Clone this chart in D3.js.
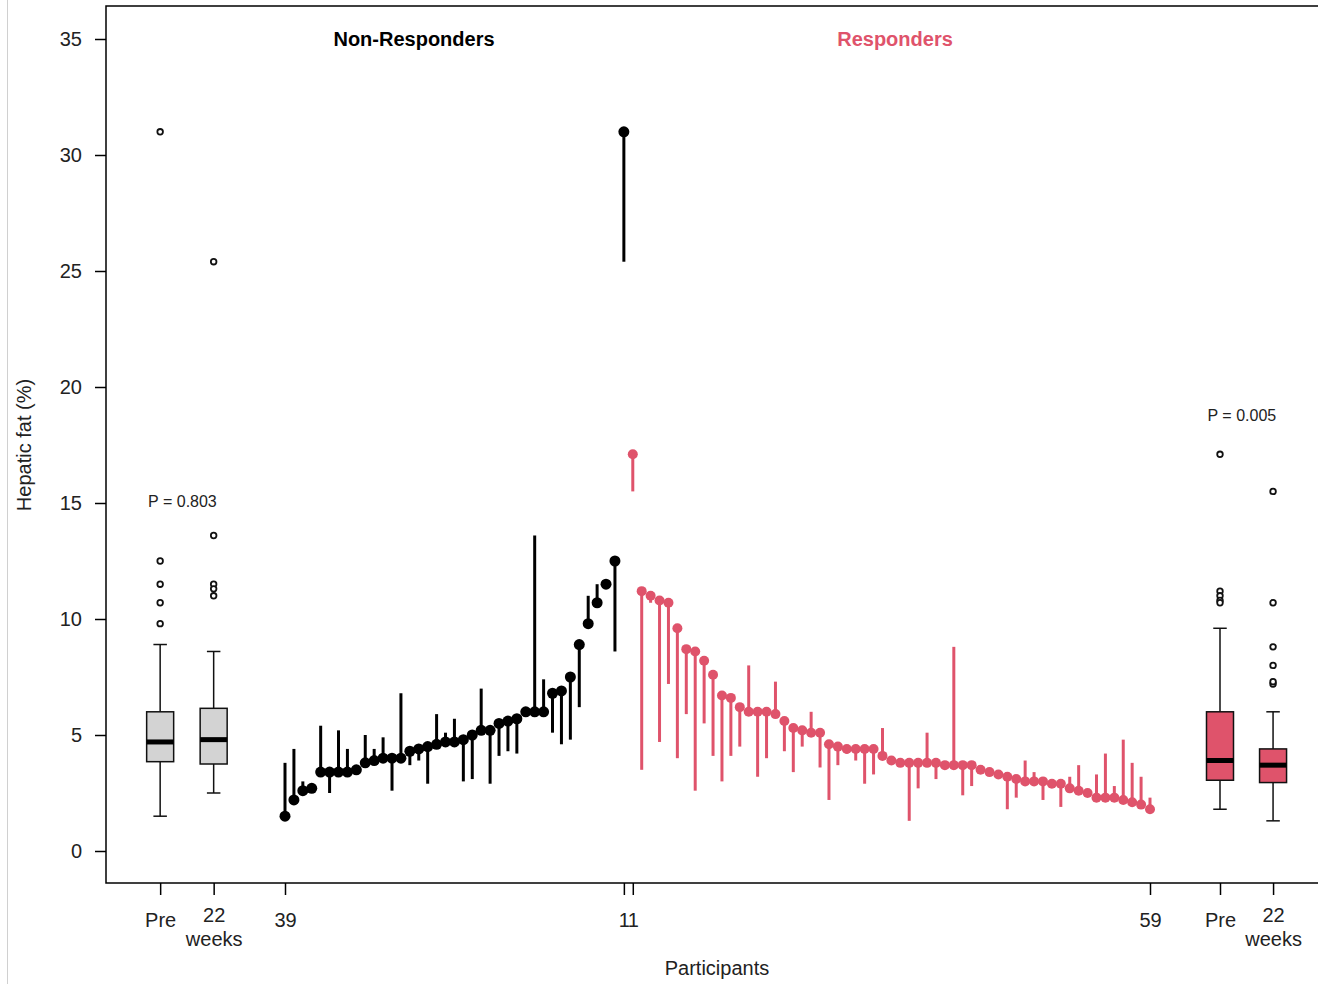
<!DOCTYPE html>
<html>
<head>
<meta charset="utf-8">
<script src="https://cdn.jsdelivr.net/npm/d3@7"></script>
<style>
  body { margin: 0; background: #fff; }
  svg { display: block; font-family: "Liberation Sans", Arial, sans-serif; }
</style>
</head>
<body>
<svg id="canvas" width="1318" height="984"></svg>
<script>
// hepatic fat (%) per participant, pre and at 22 weeks
const nonRespPre = [1.5, 2.2, 2.6, 2.7, 3.4, 3.4, 3.4, 3.4, 3.5, 3.8, 3.9, 4.0, 4.0, 4.0, 4.3, 4.4, 4.5, 4.6, 4.7, 4.7,
  4.8, 5.0, 5.2, 5.2, 5.5, 5.6, 5.7, 6.0, 6.0, 6.0, 6.8, 6.9, 7.5, 8.9, 9.8, 10.7, 11.5, 12.5, 31.0]
const nonRespPost = [3.8, 4.4, 3.0, 2.8, 5.4, 2.5, 5.2, 4.4, 3.6, 5.0, 4.4, 4.9, 2.6, 6.8, 3.7, 3.9, 2.9, 5.9, 5.1, 5.7,
  3.0, 3.1, 7.0, 2.9, 4.1, 4.3, 4.2, 6.1, 13.6, 7.4, 5.1, 4.6, 4.8, 6.2, 11.0, 11.5, 11.3, 8.6, 25.4]

const respPre = [17.1, 11.2, 11.0, 10.8, 10.7, 9.6, 8.7, 8.6, 8.2, 7.6, 6.7, 6.6, 6.2, 6.0, 6.0, 6.0, 5.9, 5.6, 5.3, 5.2,
  5.1, 5.1, 4.6, 4.5, 4.4, 4.4, 4.4, 4.4, 4.1, 3.9, 3.8, 3.8, 3.8, 3.8, 3.8, 3.7, 3.7, 3.7, 3.7, 3.5,
  3.4, 3.3, 3.2, 3.1, 3.0, 3.0, 3.0, 2.9, 2.9, 2.7, 2.6, 2.5, 2.3, 2.3, 2.3, 2.2, 2.1, 2.0, 1.8]
const respPost = [15.5, 3.5, 10.7, 4.7, 7.2, 4.0, 5.9, 2.6, 5.5, 4.1, 3.0, 4.1, 4.5, 8.0, 3.2, 4.0, 7.3, 4.3, 3.4, 4.5,
  6.0, 3.6, 2.2, 3.7, 4.2, 3.9, 2.9, 3.3, 5.3, 3.9, 3.8, 1.3, 2.7, 5.1, 3.1, 3.7, 8.8, 2.4, 2.8, 3.5,
  3.4, 3.3, 1.8, 2.3, 3.9, 3.4, 2.2, 2.9, 1.9, 3.2, 3.7, 2.6, 3.3, 4.2, 2.8, 4.8, 3.8, 3.2, 2.3]

const yTicks = [0, 5, 10, 15, 20, 25, 30, 35]
// x positions in participant units, boxes sit outside the 1..98 run
const boxPos = [-13, -7, 105.85, 111.8]
const xTickPos = [boxPos[0], boxPos[1], 1, 39, 40, 98, boxPos[2], boxPos[3]]
const xTickLabels = ['Pre', '22\nweeks', '39', '1', '1', '59', 'Pre', '22\nweeks']
const pLabels = ['P = 0.803', 'P = 0.005']
const pPos = [-10.5, 108.3]
const groupTitles = ['Non-Responders', 'Responders']

const red = '#DF536B'

let svg = d3.select('#canvas')

let x = d3.scaleLinear().domain([1, 98]).range([285, 1150])
let y = d3.scaleLinear().domain([0, 35]).range([851, 39])

// screenshot edge
svg.append('line').attr('x1', 7.5).attr('x2', 7.5).attr('y1', 0).attr('y2', 984)
  .attr('stroke', '#d0d0d0').attr('stroke-width', 1)

// frame
svg.append('rect').attr('x', 106).attr('y', 6).attr('width', 1240).attr('height', 877)
  .attr('fill', 'none').attr('stroke', '#000').attr('stroke-width', 1.5)

// y axis
let yAxis = svg.append('g').attr('transform', 'translate(106,0)')
  .call(d3.axisLeft(y).tickValues(yTicks).tickSize(11).tickPadding(13))
yAxis.select('.domain').remove()
yAxis.selectAll('line').attr('stroke-width', 1.5)
yAxis.selectAll('text').attr('font-size', 20).attr('fill', '#222').attr('font-family', null)

// x axis
let xAxis = svg.append('g').attr('transform', 'translate(0,883)')
  .call(d3.axisBottom(x).tickValues(xTickPos).tickSize(12).tickPadding(18)
    .tickFormat((d, i) => xTickLabels[i]))
xAxis.select('.domain').remove()
xAxis.selectAll('line').attr('stroke-width', 1.5)
xAxis.selectAll('text').attr('font-size', 20).attr('fill', '#222').attr('font-family', null)
  .each(function(d, i) {
    let parts = xTickLabels[i].split('\n')
    if (parts.length > 1) {
      let t = d3.select(this).text(null)
      t.append('tspan').attr('x', 0).attr('dy', '0.46em').text(parts[0])
      t.append('tspan').attr('x', 0).attr('dy', 24).text(parts[1])
    }
  })

// participant segments then points
let groups = [
  { pre: nonRespPre, post: nonRespPost, start: 1, color: '#000', r: 5.5 },
  { pre: respPre, post: respPost, start: 40, color: red, r: 5 }
]
groups.forEach(g => {
  let rows = g.pre.map((v, i) => ({ k: g.start + i, pre: v, post: g.post[i] }))
  svg.append('g').selectAll('line').data(rows).enter().append('line')
    .attr('x1', d => x(d.k)).attr('x2', d => x(d.k))
    .attr('y1', d => y(d.pre)).attr('y2', d => y(d.post))
    .attr('stroke', g.color).attr('stroke-width', 3)
  svg.append('g').selectAll('circle').data(rows).enter().append('circle')
    .attr('cx', d => x(d.k)).attr('cy', d => y(d.pre)).attr('r', g.r)
    .attr('fill', g.color)
})

// Tukey boxplot stats like R's boxplot()
let fivenum = arr => {
  let s = arr.slice().sort((a, b) => a - b)
  let n = s.length
  let n4 = Math.floor((n + 3) / 2) / 2
  return [1, n4, (n + 1) / 2, n + 1 - n4, n]
    .map(v => 0.5 * (s[Math.floor(v) - 1] + s[Math.ceil(v) - 1]))
}

let boxes = [
  { vals: nonRespPre, pos: boxPos[0], fill: '#D3D3D3' },
  { vals: nonRespPost, pos: boxPos[1], fill: '#D3D3D3' },
  { vals: respPre, pos: boxPos[2], fill: red },
  { vals: respPost, pos: boxPos[3], fill: red }
]
let bw = 27
boxes.forEach(b => {
  let f = fivenum(b.vals)
  let iqr = f[3] - f[1]
  let inside = b.vals.filter(v => v >= f[1] - 1.5 * iqr && v <= f[3] + 1.5 * iqr)
  let lo = d3.min(inside), hi = d3.max(inside)
  let outl = b.vals.filter(v => v < lo || v > hi)
  let cx = x(b.pos)
  let g = svg.append('g').attr('stroke', '#111').attr('stroke-width', 1.5)
  g.append('line').attr('x1', cx).attr('x2', cx).attr('y1', y(f[3])).attr('y2', y(hi))
  g.append('line').attr('x1', cx).attr('x2', cx).attr('y1', y(f[1])).attr('y2', y(lo))
  g.append('line').attr('x1', cx - bw / 4).attr('x2', cx + bw / 4).attr('y1', y(hi)).attr('y2', y(hi))
  g.append('line').attr('x1', cx - bw / 4).attr('x2', cx + bw / 4).attr('y1', y(lo)).attr('y2', y(lo))
  g.append('rect').attr('x', cx - bw / 2).attr('width', bw)
    .attr('y', y(f[3])).attr('height', y(f[1]) - y(f[3])).attr('fill', b.fill)
  g.append('line').attr('x1', cx - bw / 2).attr('x2', cx + bw / 2)
    .attr('y1', y(f[2])).attr('y2', y(f[2])).attr('stroke', '#000').attr('stroke-width', 5)
  g.selectAll('circle').data(outl).enter().append('circle')
    .attr('cx', cx).attr('cy', d => y(d)).attr('r', 2.8).attr('fill', '#fff')
    .attr('stroke-width', 1.8)
})

// p values above the boxes
svg.append('text').attr('x', x(pPos[0])).attr('y', 507).attr('text-anchor', 'middle')
  .attr('font-size', 16).attr('fill', '#222').text(pLabels[0])
svg.append('text').attr('x', x(pPos[1])).attr('y', 421).attr('text-anchor', 'middle')
  .attr('font-size', 16).attr('fill', '#222').text(pLabels[1])

// group titles
svg.append('text').attr('x', 414).attr('y', 46).attr('text-anchor', 'middle')
  .attr('font-size', 20).attr('font-weight', 'bold').attr('fill', '#000').text(groupTitles[0])
svg.append('text').attr('x', 895).attr('y', 46).attr('text-anchor', 'middle')
  .attr('font-size', 20).attr('font-weight', 'bold').attr('fill', red).text(groupTitles[1])

// axis titles
svg.append('text').attr('x', 717).attr('y', 975).attr('text-anchor', 'middle')
  .attr('font-size', 20).attr('fill', '#222').text('Participants')
svg.append('text').attr('transform', 'translate(31,445) rotate(-90)').attr('text-anchor', 'middle')
  .attr('font-size', 20).attr('fill', '#222').text('Hepatic fat (%)')
</script>
</body>
</html>
